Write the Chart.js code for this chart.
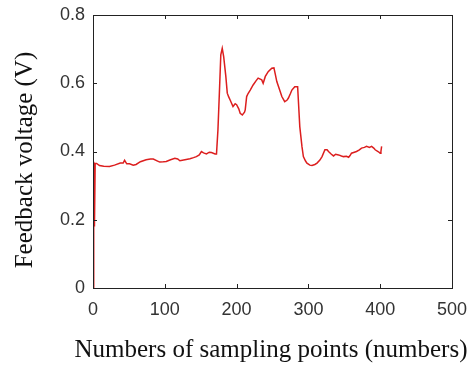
<!DOCTYPE html>
<html>
<head>
<meta charset="utf-8">
<script src="https://cdn.jsdelivr.net/npm/chart.js@4/dist/chart.umd.min.js"></script>
<style>
  html, body { margin: 0; padding: 0; background: #fff; }
  #wrap { width: 471px; height: 366px; position: relative; }
</style>
</head>
<body>
<div id="wrap"><canvas id="c" width="471" height="366"></canvas></div>
<script>
// Data
const samplePoints = [0,1,2,3,5,9,15,23,30,38,42,44,47,51,56,60,66,74,80,84,90,93,98,102,108,114,118,121,128,135,140,144,148,151,154,158,162,165,170,172,174,176,178,180,182,185,187,189,191,195,198,200,203,205,208,211,212,214,216,219,223,227,230,233,235,237,240,244,249,252,254,256,260,263,267,270,272,275,277,281,285,286,288,291,293,296,298,302,305,309,312,316,319,323,326,328,332,335,338,342,346,349,353,356,358,360,364,367,371,374,378,381,385,388,391,393,397,400,401,402];
const feedbackVoltage = [0,0.37,0.18,0.365,0.365,0.359,0.357,0.356,0.360,0.366,0.366,0.374,0.364,0.364,0.360,0.362,0.370,0.376,0.378,0.378,0.372,0.369,0.370,0.371,0.376,0.380,0.378,0.373,0.376,0.379,0.382,0.385,0.390,0.400,0.396,0.393,0.398,0.397,0.393,0.393,0.463,0.571,0.683,0.702,0.678,0.620,0.571,0.560,0.551,0.532,0.540,0.537,0.525,0.512,0.507,0.515,0.522,0.561,0.570,0.580,0.595,0.607,0.615,0.612,0.610,0.600,0.620,0.634,0.644,0.645,0.625,0.605,0.580,0.561,0.546,0.550,0.556,0.570,0.580,0.590,0.590,0.551,0.473,0.415,0.385,0.372,0.366,0.360,0.359,0.362,0.366,0.375,0.385,0.405,0.405,0.400,0.392,0.387,0.392,0.390,0.387,0.385,0.386,0.383,0.388,0.395,0.398,0.400,0.405,0.410,0.412,0.415,0.412,0.415,0.410,0.405,0.400,0.395,0.400,0.415];
const xTickValues = [0,100,200,300,400,500];
const yTickValues = [0,0.2,0.4,0.6,0.8];
const xTitle = 'Numbers of sampling points (numbers)';
const yTitle = 'Feedback voltage (V)';

const points = samplePoints.map((x, i) => ({ x: x, y: feedbackVoltage[i] }));

const frameTicks = {
  id: 'frameTicks',
  afterDraw(chart) {
    const { ctx, chartArea: a, scales } = chart;
    ctx.save();
    ctx.strokeStyle = '#222';
    ctx.lineWidth = 1;
    ctx.strokeRect(Math.round(a.left) + 0.5, Math.round(a.top) + 0.5, Math.round(a.right - a.left), Math.round(a.bottom - a.top));
    const L = 4;
    ctx.beginPath();
    xTickValues.forEach(v => {
      const px = Math.round(scales.x.getPixelForValue(v)) + 0.5;
      ctx.moveTo(px, a.bottom); ctx.lineTo(px, a.bottom - L);
      ctx.moveTo(px, a.top); ctx.lineTo(px, a.top + L);
    });
    yTickValues.forEach(v => {
      const py = Math.round(scales.y.getPixelForValue(v)) + 0.5;
      ctx.moveTo(a.left, py); ctx.lineTo(a.left + L, py);
      ctx.moveTo(a.right, py); ctx.lineTo(a.right - L, py);
    });
    ctx.stroke();
    ctx.fillStyle = '#111';
    ctx.font = '25px "Liberation Serif", "Times New Roman", serif';
    ctx.textAlign = 'center';
    // horizontal axis title
    ctx.textBaseline = 'alphabetic';
    ctx.fillText(xTitle, 271, 357);
    // vertical axis title
    ctx.translate(25, 160);
    ctx.rotate(-Math.PI / 2);
    ctx.textBaseline = 'middle';
    ctx.fillText(yTitle, 0, 0);
    ctx.restore();
  }
};

new Chart(document.getElementById('c'), {
  type: 'line',
  data: {
    datasets: [{
      data: points,
      borderColor: 'rgb(220,30,30)',
      borderWidth: 1.5,
      pointRadius: 0,
      tension: 0,
      fill: false
    }]
  },
  options: {
    responsive: false,
    animation: false,
    events: [],
    layout: { padding: { left: 0, top: 15, right: 19, bottom: 0 } },
    plugins: { legend: { display: false }, tooltip: { enabled: false } },
    scales: {
      x: {
        type: 'linear',
        min: 0, max: 500,
        afterBuildTicks: s => { s.ticks = xTickValues.map(v => ({ value: v })); },
        afterFit: s => { s.height = 78; s.paddingLeft = 0; s.paddingRight = 0; },
        ticks: { color: '#333', padding: 11, maxRotation: 0, font: { family: '"Liberation Sans", Arial, sans-serif', size: 18 } },
        grid: { display: true, drawOnChartArea: false, drawTicks: false },
        border: { display: true, color: '#222' },
        title: { display: false, text: xTitle }
      },
      y: {
        type: 'linear',
        min: 0, max: 0.8,
        afterBuildTicks: s => { s.ticks = yTickValues.map(v => ({ value: v })); },
        afterFit: s => { s.width = 93; s.paddingTop = 0; s.paddingBottom = 0; },
        ticks: { color: '#333', padding: 8, font: { family: '"Liberation Sans", Arial, sans-serif', size: 18 } },
        grid: { display: true, drawOnChartArea: false, drawTicks: false },
        border: { display: true, color: '#222' },
        title: { display: false, text: yTitle }
      }
    }
  },
  plugins: [frameTicks]
});
</script>
</body>
</html>
